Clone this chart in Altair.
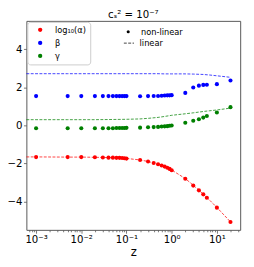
import altair as alt
import pandas as pd

# ---------------- data ----------------
z_pts = [0.001, 0.005, 0.01, 0.02, 0.03, 0.04, 0.05, 0.06, 0.07, 0.08, 0.09, 0.1,
         0.2, 0.3, 0.4, 0.5, 0.6, 0.7, 0.8, 0.9, 1.0, 2, 3, 4, 5, 6, 10, 20]
alpha_nl = [-1.67, -1.67, -1.67, -1.68, -1.69, -1.70, -1.70, -1.71, -1.71, -1.72, -1.73, -1.75,
            -1.82, -1.90, -1.98, -2.05, -2.11, -2.17, -2.23, -2.29, -2.36, -2.81, -3.17, -3.42,
            -3.63, -3.81, -4.33, -5.09]
beta_nl = [1.54, 1.54, 1.54, 1.54, 1.54, 1.54, 1.54, 1.54, 1.54, 1.54, 1.54, 1.54,
           1.53, 1.54, 1.55, 1.55, 1.56, 1.57, 1.58, 1.58, 1.59, 1.71, 1.99, 2.09,
           2.13, 2.14, 2.17, 2.36]
gamma_nl = [-0.15, -0.15, -0.15, -0.15, -0.15, -0.15, -0.15, -0.14, -0.14, -0.14, -0.14, -0.13,
            -0.12, -0.10, -0.09, -0.08, -0.06, -0.05, -0.04, -0.02, -0.01, 0.14, 0.24, 0.32,
            0.41, 0.49, 0.68, 0.96]

z_lin = [0.00061, 0.001, 0.005, 0.01, 0.02, 0.05, 0.1, 0.2, 0.3, 0.5, 0.7, 1.0, 2, 3, 5, 7, 10, 20]
alpha_lin = [-1.66, -1.66, -1.67, -1.67, -1.68, -1.70, -1.74, -1.82, -1.90, -2.05, -2.17, -2.35,
             -2.80, -3.15, -3.62, -3.95, -4.32, -5.08]
beta_lin = [2.72, 2.72, 2.72, 2.72, 2.72, 2.72, 2.72, 2.72, 2.72, 2.72, 2.71, 2.71,
            2.71, 2.70, 2.68, 2.65, 2.61, 2.53]
gamma_lin = [0.30, 0.30, 0.30, 0.30, 0.30, 0.31, 0.32, 0.34, 0.37, 0.42, 0.47, 0.53,
             0.61, 0.66, 0.73, 0.77, 0.81, 0.91]

series = ["log₁₀(α)", "β", "γ"]
colors = ["#ff0000", "#0000ff", "#008000"]

x_major = [0.001, 0.01, 0.1, 1, 10]
x_major_labels = ["10⁻³", "10⁻²", "10⁻¹", "10⁰", "10¹"]
x_minor = [0.0007, 0.0008, 0.0009,
           0.002, 0.003, 0.004, 0.005, 0.006, 0.007, 0.008, 0.009,
           0.02, 0.03, 0.04, 0.05, 0.06, 0.07, 0.08, 0.09,
           0.2, 0.3, 0.4, 0.5, 0.6, 0.7, 0.8, 0.9,
           2, 3, 4, 5, 6, 7, 8, 9, 20, 30]
y_ticks = [-4, -2, 0, 2, 4]
x_domain = [0.00061, 32.8]
y_domain = [-5.5, 5.5]

# ---------------- tables ----------------
rows = []
for name, vals in zip(series, [alpha_nl, beta_nl, gamma_nl]):
    for zz, v in zip(z_pts, vals):
        rows.append({"z": zz, "value": v, "series": name, "kind": "non-linear"})
df_pts = pd.DataFrame(rows)

rows = []
for name, vals in zip(series, [alpha_lin, beta_lin, gamma_lin]):
    for zz, v in zip(z_lin, vals):
        rows.append({"z": zz, "value": v, "series": name, "kind": "linear"})
df_lin = pd.DataFrame(rows)

label_expr = " : ".join(
    [f"datum.value == {v} ? '{l}'" for v, l in zip(x_major, x_major_labels)]
) + " : ''"
major_test = " || ".join([f"datum.value == {v}" for v in x_major])

x_axis = alt.Axis(
    values=x_major + x_minor,
    labelExpr=label_expr,
    tickSize={"condition": {"test": major_test, "value": 3.5}, "value": 2},
    tickColor="#555",
    tickWidth=0.8,
    labelFontSize=10.5,
    labelPadding=1.5,
    labelColor="black",
    labelFlush=False,
    labelOverlap=False,
    domain=False,
    grid=False,
    title="z",
    titleFontSize=12,
    titleFontWeight="normal",
    titlePadding=2,
    titleColor="black",
)
y_axis = alt.Axis(
    values=y_ticks,
    tickSize=3,
    tickColor="#555",
    tickWidth=0.8,
    labelFontSize=10.5,
    labelPadding=1.5,
    labelColor="black",
    domain=False,
    grid=False,
    title=None,
)

x_enc = alt.X("z:Q", scale=alt.Scale(type="log", domain=x_domain, nice=False), axis=x_axis)
y_enc = alt.Y("value:Q", scale=alt.Scale(domain=y_domain, nice=False, zero=False), axis=y_axis)

lines = alt.Chart(df_lin).mark_line(strokeWidth=1, opacity=0.75).encode(
    x=x_enc,
    y=y_enc,
    stroke=alt.Stroke("series:N", scale=alt.Scale(domain=series, range=colors), legend=None),
    strokeDash=alt.StrokeDash(
        "kind:N",
        scale=alt.Scale(domain=["linear"], range=[[3, 1.5]]),
        legend=alt.Legend(
            title=None, orient="none", legendX=100, legendY=17,
            symbolType="stroke", symbolStrokeColor="black", symbolStrokeWidth=1,
            symbolDash=[2, 1], symbolSize=110, labelFontSize=8.5, labelOffset=5,
            labelColor="black",
        ),
    ),
    detail="series:N",
    order="z:Q",
)

points = alt.Chart(df_pts).mark_point(filled=True, size=18, opacity=1, strokeWidth=0).encode(
    x=x_enc,
    y=y_enc,
    color=alt.Color(
        "series:N",
        scale=alt.Scale(domain=series, range=colors),
        legend=alt.Legend(
            title=None, orient="none", legendX=1, legendY=1,
            symbolType="circle", symbolSize=20, symbolStrokeWidth=0,
            symbolOffset=5,
            labelFontSize=8.5, labelOffset=11, labelColor="black",
            rowPadding=4.5, padding=4,
            strokeColor="#cccccc", fillColor="white", cornerRadius=3,
        ),
    ),
    shape=alt.Shape(
        "kind:N",
        scale=alt.Scale(domain=["non-linear"], range=["circle"]),
        legend=alt.Legend(
            title=None, orient="none", legendX=101, legendY=7,
            symbolFillColor="black", symbolStrokeWidth=0, symbolSize=10,
            labelFontSize=8.5, labelOffset=9, labelColor="black",
        ),
    ),
)

chart = alt.layer(lines, points).resolve_legend(
    color="independent", shape="independent", strokeDash="independent"
).properties(
    width=221,
    height=216,
    autosize=alt.AutoSizeParams(type="none"),
    padding={"left": 19, "top": 9, "right": 6, "bottom": 32},
    title=alt.TitleParams(
        "cₛ² = 10⁻⁷", fontSize=10.5, fontWeight="normal", anchor="middle",
        offset=0, color="black",
    ),
).configure(font="DejaVu Sans").configure_view(stroke="#555", strokeWidth=1)

chart.save("out.html", embed_options={"renderer": "svg", "actions": False})
